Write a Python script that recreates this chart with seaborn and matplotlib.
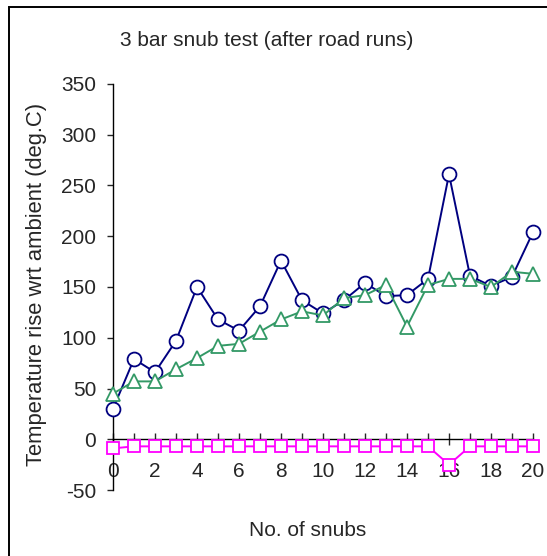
import matplotlib
matplotlib.use("Agg")
import matplotlib.pyplot as plt
import seaborn as sns
import pandas as pd
from matplotlib.patches import Rectangle

snubs = list(range(21))
series_a = [30, 79, 66, 97, 150, 118, 107, 131, 176, 137, 124, 137, 154, 141, 142, 158, 261, 161, 151, 160, 204]
series_b = [45, 57, 57, 69, 80, 92, 94, 106, 118, 126, 122, 139, 142, 152, 111, 152, 158, 158, 150, 165, 163]
series_c = [-9, -7, -7, -7, -7, -7, -7, -7, -7, -7, -7, -7, -7, -7, -7, -7, -25, -7, -7, -7, -7]
y_ticks = [-50, 0, 50, 100, 150, 200, 250, 300, 350]
x_ticks = [0, 2, 4, 6, 8, 10, 12, 14, 16, 18, 20]

sns.set_style("white")
plt.rcParams['font.family'] = ['Liberation Sans', 'DejaVu Sans']
plt.rcParams['axes.unicode_minus'] = False

fig = plt.figure(figsize=(5.47, 5.56), dpi=100)
ax = fig.add_axes([113/547, 1-490/556, 420/547, 406/556])

df = pd.DataFrame({"x": snubs, "a": series_a, "b": series_b, "c": series_c})

styles = [("a", "#000080", "o", 10), ("b", "#339966", "^", 10), ("c", "#FF00FF", "s", 9)]
for i, (col, color, mk, ms) in enumerate(styles):
    sns.lineplot(data=df, x="x", y=col, ax=ax, color=color, marker=mk, markersize=ms,
                 markerfacecolor="white", markeredgecolor=color, markeredgewidth=1.3,
                 linewidth=1.4, clip_on=False, zorder=3 + i)

ax.set_xlim(0, 20)
ax.set_ylim(-50, 350)
ax.set_yticks(y_ticks)
ax.set_xticks(x_ticks)
ax.set_xticks(snubs, minor=True)
ax.spines['top'].set_visible(False)
ax.spines['right'].set_visible(False)
ax.spines['bottom'].set_position(('data', 0))
for s in ['left', 'bottom']:
    ax.spines[s].set_color('black')
    ax.spines[s].set_linewidth(1.0)
ax.tick_params(axis='y', direction='out', length=4, width=1, labelsize=15, pad=8, left=True)
ax.tick_params(axis='x', which='both', direction='inout', length=8.5, width=1, labelsize=15, pad=12, bottom=True)
ax.set_xlabel("")
ax.set_ylabel("")
ax.grid(False)

fig.text(308/547, 1-530/556, "No. of snubs", ha="center", va="center", fontsize=15)
fig.text(37/547, 1-284/556, "Temperature rise wrt ambient (deg.C)", ha="center", va="center",
         rotation=90, fontsize=15.8)
fig.text(267/547, 1-40/556, "3 bar snub test (after road runs)", ha="center", va="center", fontsize=15)

fig.patches.append(Rectangle((9/547, -0.1), 1.2, 1 - 7/556 + 0.1, transform=fig.transFigure,
                             fill=False, edgecolor='black', linewidth=1.4))

fig.savefig("out.png", dpi=100)
